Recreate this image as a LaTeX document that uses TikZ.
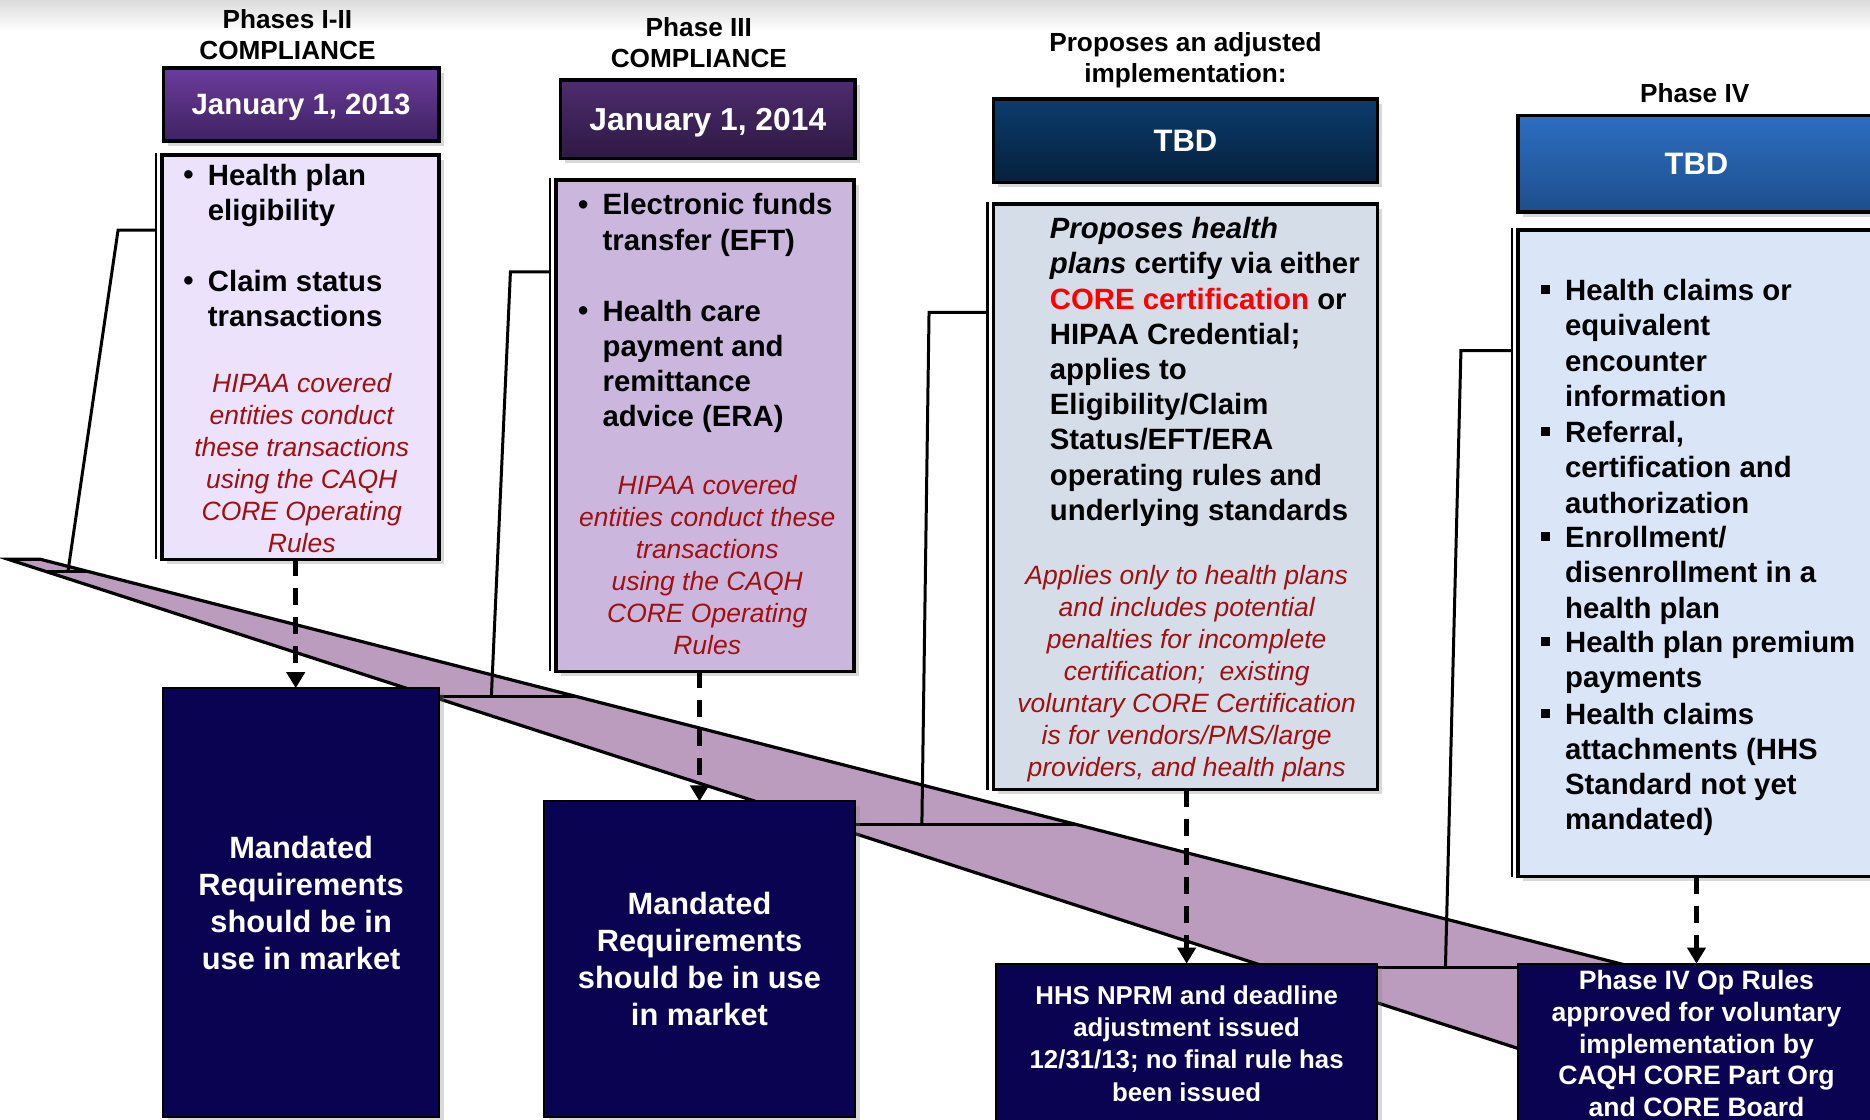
\documentclass[tikz,border=0pt]{standalone}
\usepackage{fontspec}
\setmainfont{Liberation Sans}
\usetikzlibrary{arrows.meta,shadows}
\definecolor{lavA}{HTML}{ECE2FB}
\definecolor{lavB}{HTML}{CBB6DE}
\definecolor{grayC}{HTML}{D5DDE8}
\definecolor{blueD}{HTML}{DAE5F7}
\definecolor{bandc}{HTML}{BC9CBE}
\definecolor{navy}{HTML}{0A0352}
\definecolor{redit}{HTML}{A01010}
\definecolor{coreRed}{HTML}{FF0000}
\definecolor{pA1}{HTML}{6C3C9C}
\definecolor{pA2}{HTML}{3E2262}
\definecolor{pB1}{HTML}{4E2C6E}
\definecolor{pB2}{HTML}{2D1943}
\definecolor{bC1}{HTML}{0C3C6E}
\definecolor{bC2}{HTML}{05203C}
\definecolor{bD1}{HTML}{2D6EC0}
\definecolor{bD2}{HTML}{1D4E8C}
\newcommand\mkbox[7]{%
  \pgfmathsetmacro\mbcx{(#2+#4)/2}%
  \pgfmathsetmacro\mbcy{(#3+#5)/2}%
  \pgfmathsetmacro\mbw{(#4-#2)*0.5963}%
  \pgfmathsetmacro\mbh{(#5-#3)*0.5963}%
  \node[#6, minimum width=\mbw pt, minimum height=\mbh pt] (#1) at (\mbcx,\mbcy) {#7};}
\begin{document}
\begin{tikzpicture}[x=0.5963pt,y=-0.5963pt,
  hdr/.style={font=\bfseries\fontsize{13.1}{15.5}\selectfont, align=center, anchor=north, inner sep=0pt},
  body/.style={font=\bfseries\fontsize{14.67}{17.6}\selectfont, align=left, anchor=north west, inner sep=0pt},
  redtxt/.style={font=\itshape\fontsize{13.24}{16}\selectfont, text=redit, align=center, anchor=north, inner sep=0pt},
  bul/.style={font=\bfseries\fontsize{14.67}{17.6}\selectfont, inner sep=0pt, anchor=base},
  sqb/.style={fill=black, inner sep=0pt, minimum width=4.2pt, minimum height=4.6pt},
  shd/.style={drop shadow={shadow xshift=2.4pt, shadow yshift=-2.4pt, opacity=0.3}},
  cbox/.style={draw=black, line width=1.8pt, shd, inner sep=0pt, outer sep=0pt},
  dbox/.style={draw=black, line width=1.8pt, text=white, shd, inner sep=0pt, outer sep=0pt, text depth=0pt},
  nbox/.style={fill=navy, draw=black, line width=1pt, text=white, align=center, shd, inner sep=0pt, outer sep=0pt},
  call/.style={draw=black, line width=1.5pt},
  extra/.style={draw=black, line width=1.2pt},
  darr/.style={draw=black, line width=2.3pt, dash pattern=on 8.5pt off 6pt, -{Triangle[length=8pt,width=9pt]}},
  bandline/.style={draw=black, line width=1.6pt, line join=miter, fill=bandc}
]
\useasboundingbox (0,0) rectangle (1568,939.1);
\fill[white] (0,0) rectangle (1568,939.1);
\fill[top color=gray!28, bottom color=white] (0,0) rectangle (1568,26);

% band
\draw[bandline] (7,469) -- (34,469) -- (1400,818.7) -- (1400,920.3) -- cycle;

% callout coordinates
\coordinate (a1) at (131,193); \coordinate (a2) at (99,193); \coordinate (a3) at (57,479);
\coordinate (af1) at (38,479); \coordinate (af2) at (73,479);
\coordinate (b1) at (462,228); \coordinate (b2) at (428,228); \coordinate (b3) at (412,584);
\coordinate (bf1) at (362,584); \coordinate (bf2) at (483,584);
\coordinate (c1) at (828,262); \coordinate (c2) at (779,262); \coordinate (c3) at (773,691);
\coordinate (cf1) at (692,691); \coordinate (cf2) at (901,691);
\coordinate (d1) at (1268,294); \coordinate (d2) at (1225,294); \coordinate (d3) at (1212,811);
\coordinate (df1) at (1062,811); \coordinate (df2) at (1370,811);
\draw[call] (a1) -- (a2) -- (a3); \draw[call] (af1) -- (af2);
\draw[call] (b1) -- (b2) -- (b3); \draw[call] (bf1) -- (bf2);
\draw[call] (c1) -- (c2) -- (c3); \draw[call] (cf1) -- (cf2);
\draw[call] (d1) -- (d2) -- (d3); \draw[call] (df1) -- (df2);

% content boxes
\mkbox{A}{136}{130}{368}{469}{cbox, fill=lavA}{}
\mkbox{B}{466}{151}{716}{563}{cbox, fill=lavB}{}
\mkbox{C}{833}{171}{1155}{662}{cbox, fill=grayC}{}
\mkbox{D}{1273}{193}{1572}{735}{cbox, fill=blueD}{}
\draw[extra] ([xshift=-3pt,yshift=1pt]A.north west) -- ([xshift=-3pt]A.south west);
\draw[extra] ([xshift=-3pt,yshift=1pt]B.north west) -- ([xshift=-3pt]B.south west);
\draw[extra] ([xshift=-3pt,yshift=1pt]C.north west) -- ([xshift=-3pt]C.south west);
\draw[extra] ([xshift=-3pt,yshift=1pt]D.north west) -- ([xshift=-3pt]D.south west);

% date boxes
\mkbox{dA}{137}{57}{368}{118}{dbox, top color=pA1, bottom color=pA2, font=\bfseries\fontsize{14.7}{17}\selectfont}{January 1, 2013}
\mkbox{dB}{470}{67}{717}{133}{dbox, top color=pB1, bottom color=pB2, font=\bfseries\fontsize{15.9}{18}\selectfont}{January 1, 2014}
\mkbox{dC}{833}{83}{1155}{153}{dbox, top color=bC1, bottom color=bC2, font=\bfseries\fontsize{15.5}{18}\selectfont}{TBD}
\mkbox{dD}{1273}{97}{1572}{178}{dbox, top color=bD1, bottom color=bD2, font=\bfseries\fontsize{15.5}{18}\selectfont}{TBD}

% headers
\node[hdr] (hA) at (241,8) {Phases I-II\\COMPLIANCE};
\node[hdr] (hB) at (586,14) {Phase III\\COMPLIANCE};
\node[hdr] (hC) at (994,27) {Proposes an adjusted\\implementation:};
\node[hdr] (hD) at (1421,70) {Phase IV};

% box A text
\node[bul] (Ab1) at (158,155) {\textbullet};
\node[body] (At1) at (174,137) {Health plan\\eligibility};
\node[bul] (Ab2) at (158,244) {\textbullet};
\node[body] (At2) at (174,226) {Claim status\\transactions};
\node[redtxt] (Ar) at (253,313) {HIPAA covered\\entities conduct\\these transactions\\using the CAQH\\CORE Operating\\Rules};

% box B text
\node[bul] (Bb1) at (489,180) {\textbullet};
\node[body] (Bt1) at (505,162) {Electronic funds\\transfer (EFT)};
\node[bul] (Bb2) at (489,269) {\textbullet};
\node[body] (Bt2) at (505,251) {Health care\\payment and\\remittance\\advice (ERA)};
\node[redtxt] (Br) at (593,398) {HIPAA covered\\entities conduct these\\transactions\\using the CAQH\\CORE Operating\\Rules};

% box C text
\node[body] (Ct) at (880,182) {\textit{Proposes health}\\\textit{plans} certify via either\\\textcolor{coreRed}{CORE certification} or\\HIPAA Credential;\\applies to\\Eligibility/Claim\\Status/EFT/ERA\\operating rules and\\underlying standards};
\node[redtxt] (Cr) at (995,474) {Applies only to health plans\\and includes potential\\penalties for incomplete\\certification;~ existing\\voluntary CORE Certification\\is for vendors/PMS/large\\providers, and health plans};

% box D text
\node[sqb] (Db1) at (1296,243) {};
\node[body] (Dt1) at (1312,234) {Health claims or\\equivalent\\encounter\\information};
\node[sqb] (Db2) at (1296,362) {};
\node[body] (Dt2) at (1312,353) {Referral,\\certification and\\authorization};
\node[sqb] (Db3) at (1296,450) {};
\node[body] (Dt3) at (1312,441) {Enrollment/\\disenrollment in a\\health plan};
\node[sqb] (Db4) at (1296,538) {};
\node[body] (Dt4) at (1312,529) {Health plan premium\\payments};
\node[sqb] (Db5) at (1296,598) {};
\node[body] (Dt5) at (1312,589) {Health claims\\attachments (HHS\\Standard not yet\\mandated)};

% navy boxes
\mkbox{M1}{137}{577}{368}{937}{nbox, font=\bfseries\fontsize{15.4}{18.5}\selectfont}{Mandated\\Requirements\\should be in\\use in market}
\mkbox{M2}{456}{672}{717}{937}{nbox, font=\bfseries\fontsize{15.4}{18.5}\selectfont}{Mandated\\Requirements\\should be in use\\in market}
\mkbox{H}{835}{808}{1155}{942}{nbox, font=\bfseries\fontsize{12.9}{16.1}\selectfont}{HHS NPRM and deadline\\adjustment issued\\12/31/13; no final rule has\\been issued}
\mkbox{P}{1273}{808}{1572}{942}{nbox, font=\bfseries\fontsize{13.3}{15.8}\selectfont}{Phase IV Op Rules\\approved for voluntary\\implementation by\\CAQH CORE Part Org\\and CORE Board}

% dashed arrows
\draw[darr] ([xshift=-2.7pt]A.south -| M1.north) -- ([xshift=-2.7pt]M1.north);
\draw[darr] (B.south -| M2.north) -- (M2.north);
\draw[darr] (C.south -| H.north) -- (H.north);
\draw[darr] (D.south -| P.north) -- (P.north);
\end{tikzpicture}
\end{document}
